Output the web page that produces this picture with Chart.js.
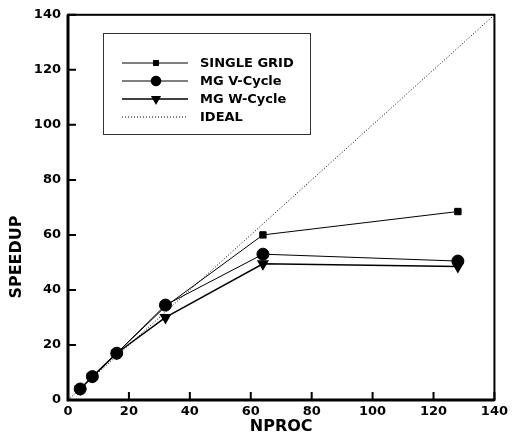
<!DOCTYPE html>
<html>
<head>
<meta charset="utf-8">
<script src="https://cdn.jsdelivr.net/npm/chart.js@4/dist/chart.umd.min.js"></script>
<style>
  html, body { margin: 0; padding: 0; background: #fff; }
  #wrap { position: relative; width: 512px; height: 436px; }
</style>
</head>
<body>
<div id="wrap"><canvas id="c" width="512" height="436"></canvas></div>
<script>
'use strict';

const nproc = [4, 8, 16, 32, 64, 128];
const singleGrid = [4, 8.5, 17, 34, 60, 68.5];
const mgV = [4, 8.5, 17, 34.5, 53, 50.5];
const mgW = [4, 8.5, 17, 30, 49.5, 48.5];
const ideal = [0, 140];
const xTicks = [0, 20, 40, 60, 80, 100, 120, 140];
const yTicks = [0, 20, 40, 60, 80, 100, 120, 140];

const FONT = '"DejaVu Sans", "Liberation Sans", Arial, sans-serif';

function pts (xs, ys)
{
    return xs.map((x, i) => ({x, y: ys[i]}));
}

const datasets = [
    {
        label: 'SINGLE GRID',
        data: pts(nproc, singleGrid),
        borderColor: '#000', backgroundColor: '#000',
        borderWidth: 1, pointStyle: 'rect', pointRadius: 4.5, pointRotation: 0
    },
    {
        label: 'MG V-Cycle',
        data: pts(nproc, mgV),
        borderColor: '#000', backgroundColor: '#000',
        borderWidth: 1, pointStyle: 'circle', pointRadius: 6
    },
    {
        label: 'MG W-Cycle',
        data: pts(nproc, mgW),
        borderColor: '#000', backgroundColor: '#000',
        borderWidth: 1.5, pointStyle: 'triangle', pointRadius: 5.5, pointRotation: 180
    },
    {
        label: 'IDEAL',
        data: pts(ideal, ideal),
        borderColor: '#000', backgroundColor: '#000',
        borderWidth: 1, borderDash: [1, 2], pointRadius: 0
    }
];

// frame, inward ticks, y title and legend box
const decor = {
    id: 'decor',
    afterDraw (chart)
    {
        const {ctx, chartArea: a, scales} = chart;
        ctx.save();
        ctx.strokeStyle = '#000';

        // inward ticks
        ctx.lineWidth = 2;
        ctx.beginPath();
        for (const v of yTicks)
        {
            const y = scales.y.getPixelForValue(v);
            ctx.moveTo(a.left, y);
            ctx.lineTo(a.left + 8, y);
        }
        for (const v of xTicks)
        {
            const x = scales.x.getPixelForValue(v);
            ctx.moveTo(x, a.bottom);
            ctx.lineTo(x, a.bottom - 8);
        }
        ctx.stroke();

        // frame
        ctx.lineWidth = 2;
        ctx.strokeRect(a.left, a.top, a.right - a.left, a.bottom - a.top);
        ctx.lineWidth = 3;
        ctx.beginPath();
        ctx.moveTo(a.left, a.top);
        ctx.lineTo(a.left, a.bottom);
        ctx.lineTo(a.right, a.bottom);
        ctx.stroke();

        // y title
        ctx.fillStyle = '#000';
        ctx.font = 'bold 16px ' + FONT;
        ctx.textAlign = 'center';
        ctx.textBaseline = 'middle';
        ctx.translate(17, 257);
        ctx.rotate(-Math.PI / 2);
        ctx.fillText('SPEEDUP', 0, 0);
        ctx.setTransform(1, 0, 0, 1, 0, 0);

        // legend
        const bx = 103, by = 33, bw = 207, bh = 101;
        ctx.lineWidth = 1;
        ctx.strokeStyle = '#333';
        ctx.strokeRect(bx + 0.5, by + 0.5, bw, bh);
        ctx.font = 'bold 13px ' + FONT;
        ctx.textAlign = 'left';
        datasets.forEach((ds, i) =>
        {
            const y = 63 + i * 18;
            ctx.strokeStyle = '#000';
            ctx.lineWidth = ds.borderWidth;
            ctx.setLineDash(ds.borderDash || []);
            ctx.beginPath();
            ctx.moveTo(122, y);
            ctx.lineTo(188, y);
            ctx.stroke();
            ctx.setLineDash([]);
            if (ds.pointRadius)
            {
                Chart.helpers.drawPoint(ctx, {
                    pointStyle: ds.pointStyle,
                    radius: ds.pointRadius * 0.8,
                    rotation: ds.pointRotation || 0,
                    borderWidth: 1
                }, 156, y);
                ctx.fill();
            }
            ctx.fillStyle = '#000';
            ctx.fillText(ds.label, 200, y + 1);
        });
        ctx.restore();
    }
};

new Chart(document.getElementById('c'), {
    type: 'line',
    data: {datasets},
    options: {
        responsive: false,
        animation: false,
        devicePixelRatio: 1,
        layout: {padding: {top: 12, right: 15, left: 0, bottom: 0}},
        plugins: {legend: {display: false}, tooltip: {enabled: false}},
        elements: {line: {tension: 0}},
        scales: {
            x: {
                type: 'linear', min: 0, max: 140,
                afterBuildTicks: (s) => { s.ticks = xTicks.map((v) => ({value: v})); },
                afterFit: (s) => { s.height = 36; },
                grid: {display: false, drawTicks: false},
                border: {display: false},
                ticks: {color: '#000', font: {family: FONT, size: 13, weight: 'bold'}, padding: 4, maxRotation: 0},
                title: {display: true, text: 'NPROC', color: '#000', padding: {top: 0, bottom: 0},
                        font: {family: FONT, size: 16, weight: 'bold'}}
            },
            y: {
                type: 'linear', min: 0, max: 140,
                afterBuildTicks: (s) => { s.ticks = yTicks.map((v) => ({value: v})); },
                afterFit: (s) => { s.width = 68; },
                grid: {display: false, drawTicks: false},
                border: {display: false},
                ticks: {color: '#000', font: {family: FONT, size: 13, weight: 'bold'}, padding: 7}
            }
        }
    },
    plugins: [decor]
});
</script>
</body>
</html>
